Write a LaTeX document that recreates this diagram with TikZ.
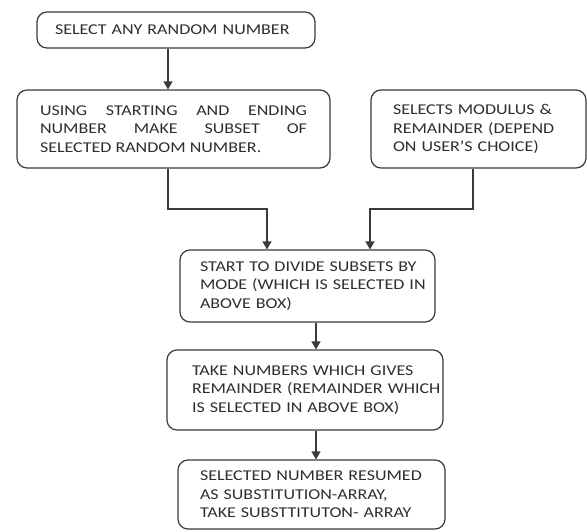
\documentclass[tikz,border=0pt]{standalone}
\usepackage{fontspec}
\setmainfont[FakeStretch=1.2]{Carlito}
\usepackage{tikz}
\usetikzlibrary{arrows.meta,calc,positioning}
\definecolor{linegray}{HTML}{3A3A3A}
\definecolor{textgray}{HTML}{2E2E2E}
\newcommand{\padtext}[2]{\leftskip=#1pt\relax #2\par}
\tikzset{
  stepbox/.style={draw=linegray, line width=1.2pt, rounded corners=10pt,
    align=left, text=textgray, font=\fontsize{15}{18.5}\selectfont,
    inner xsep=0pt, inner ysep=0pt},
  arr/.style={draw=linegray, line width=1.3pt,
    -{Triangle[width=9pt,length=8pt]}},
}
\begin{document}
\begin{tikzpicture}[x=1pt,y=-1pt]
  \useasboundingbox (0,0) rectangle (587,531);
      \node[stepbox, text width=278pt, minimum height=36pt] (pick) at (176,30) {\padtext{18}{SELECT ANY RANDOM NUMBER}}; % first box
      \node[stepbox, inner xsep=23pt, text width=267pt, minimum height=78pt, align=justify] (subset) at (173.5,129)
        {USING STARTING AND ENDING\linebreak NUMBER MAKE SUBSET OF\linebreak SELECTED RANDOM NUMBER.}; % subset box
      \node[stepbox, text width=215pt, minimum height=78pt] (modrem) at (478.5,129)
        {\padtext{22}{SELECTS MODULUS \&\\REMAINDER (DEPEND\\ON USER'S CHOICE)}}; % modulus box
      \node[stepbox, text width=255pt, minimum height=72pt] (divide) at (307.5,286)
        {\padtext{20}{START TO DIVIDE SUBSETS BY\\MODE (WHICH IS SELECTED IN\\ABOVE BOX)}}; % divide box
      \node[stepbox, text width=276pt, minimum height=80pt] (take) at (305,390)
        {\padtext{25}{TAKE NUMBERS WHICH GIVES\\REMAINDER (REMAINDER WHICH\\IS SELECTED IN ABOVE BOX)}}; % remainder box
      \node[stepbox, text width=267pt, minimum height=69pt] (result) at (311.5,494.5)
        {\padtext{22}{SELECTED NUMBER RESUMED\\AS SUBSTITUTION-ARRAY,\\TAKE SUBSTTITUTON- ARRAY}}; % result box
      \coordinate (leftjoin) at (168,209); % elbow left
      \coordinate (rightjoin) at (473,209); % elbow right
      \coordinate (midline) at (316,0); % lower arrows
      \draw[arr] (pick.south -| leftjoin) -- (subset.north -| leftjoin);
      \draw[arr] (subset.south -| leftjoin) -- (leftjoin) -| ($(divide.north)+(-40.5,0)$);
      \draw[arr] (modrem.south -| rightjoin) -- (rightjoin) -| ($(divide.north)+(62.5,0)$);
      \draw[arr] (divide.south -| midline) -- (take.north -| midline);
      \draw[arr] (take.south -| midline) -- (result.north -| midline);
\end{tikzpicture}
\end{document}
